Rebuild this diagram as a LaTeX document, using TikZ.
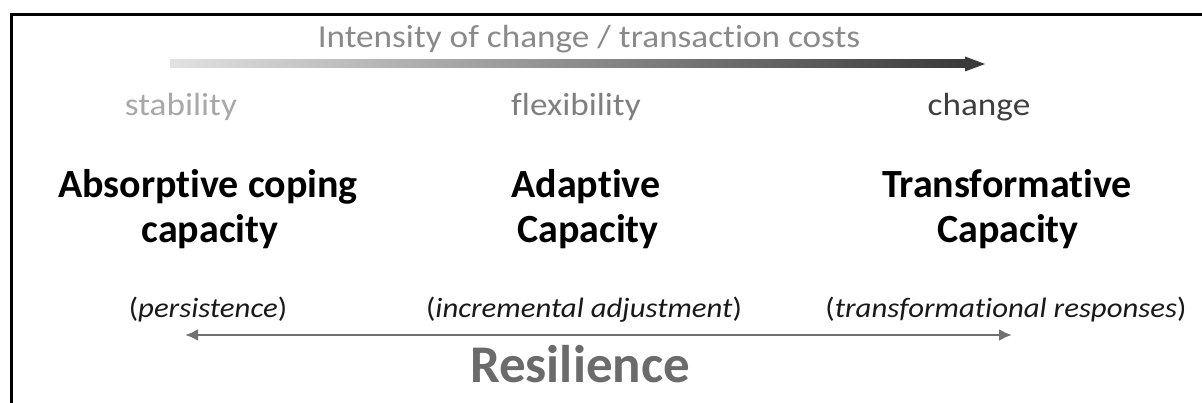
\documentclass[tikz,border=0pt]{standalone}
\usepackage{fontspec}
\setmainfont{Carlito}[Ligatures=NoCommon]
\newfontfamily\widefont[FakeStretch=1.1,Ligatures=NoCommon]{Carlito}
\usetikzlibrary{arrows.meta}
\definecolor{topgray}{HTML}{8A8A8A}
\definecolor{stabgray}{HTML}{A8A8A8}
\definecolor{flexgray}{HTML}{7F7F7F}
\definecolor{changegray}{HTML}{3F3F3F}
\definecolor{resgray}{HTML}{6B6B6B}
\definecolor{arrowgray}{HTML}{707070}
\definecolor{barlight}{HTML}{E2E2E2}
\definecolor{bardark}{HTML}{3A3A3A}
\tikzset{
  lab/.style={anchor=base, inner sep=0pt, font=\widefont\fontsize{32}{38}\selectfont},
  head/.style={anchor=base, inner sep=0pt, align=center, font=\bfseries\fontsize{40}{45}\selectfont},
  paren/.style={anchor=base, inner sep=0pt, text=black!90, font=\widefont\fontsize{28}{34}\selectfont},
  resarrow/.style={draw=arrowgray, line width=2.8pt, {Latex[length=13pt,width=12pt]}-{Latex[length=13pt,width=12pt]}}
}
\begin{document}
\begin{tikzpicture}[x=1pt,y=-1pt]
\useasboundingbox (0,0) rectangle (1202,403);
% frame (cropped)
\draw[line width=3pt, black] (1205,14.5) -- (11.5,14.5) -- (11.5,406);
% top label
\node[lab, text=topgray] (intensity) at (589,48) {Intensity of change / transaction costs};
% gradient arrow
\coordinate (gstart) at (170,64);
\coordinate (gend) at (985,64);
\shade[left color=barlight, right color=bardark] (gstart) ++(0,-4) rectangle (966,68);
\fill[bardark] (965,56.5) -- (gend) -- (965,71.5) -- cycle;
% small labels
\node[lab, text=stabgray] (stability) at (181,116) {stability};
\node[lab, text=flexgray] (flexibility) at (576,116) {flexibility};
\node[lab, text=changegray] (change) at (979,116) {change};
% headings
\node[head] (absorb1) at (208,198) {Absorptive coping};
\node[head] (absorb2) at (210,243) {capacity};
\node[head] (adapt1) at (586,198) {Adaptive};
\node[head] (adapt2) at (588,243) {Capacity};
\node[head] (trans1) at (1007,198) {Transformative};
\node[head] (trans2) at (1008,243) {Capacity};
% parentheticals
\node[paren] (persist) at (208,318) {({\itshape persistence})};
\node[paren] (incr) at (584,318) {({\itshape incremental adjustment})};
\node[paren] (transresp) at (1006,318) {({\itshape transformational responses})};
% resilience arrow
\coordinate (rleft) at (185,335);
\coordinate (rright) at (1012,335);
\draw[resarrow] (rleft) -- (rright);
\node[anchor=base, inner sep=0pt, text=resgray, font=\bfseries\fontsize{53}{60}\selectfont] (res) at (580,382) {Resilience};
\end{tikzpicture}
\end{document}
